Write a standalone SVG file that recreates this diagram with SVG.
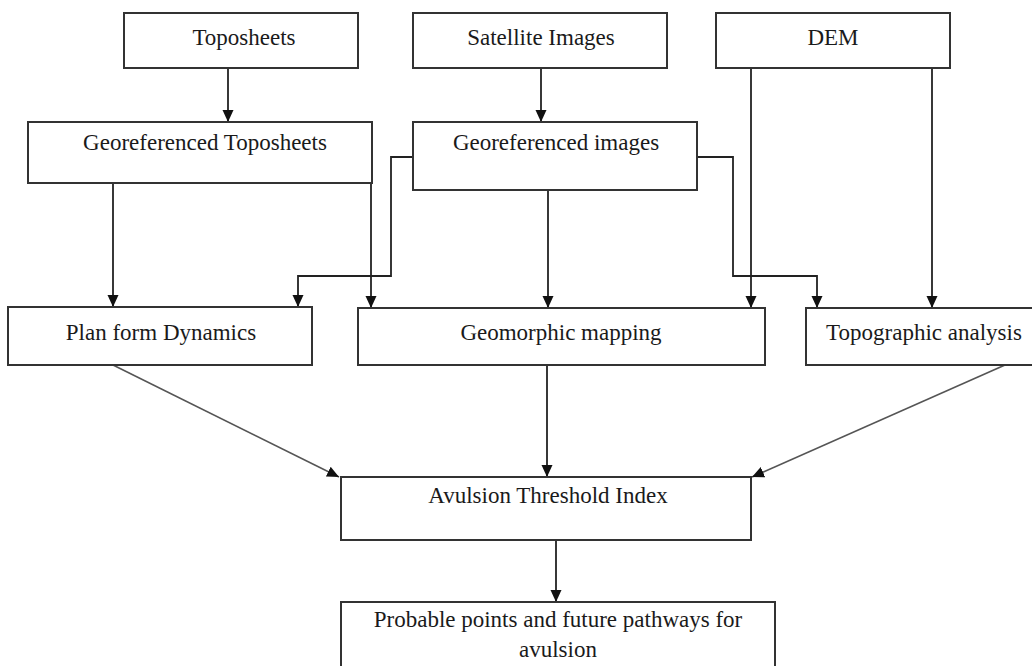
<svg xmlns="http://www.w3.org/2000/svg" width="1032" height="666" viewBox="0 0 1032 666">
  <style>
    .box { fill: #ffffff; stroke: #333333; stroke-width: 2; }
    .lbl { font-family: "Liberation Serif", "Times New Roman", serif; font-size: 23px; fill: #1a1a1a; text-anchor: middle; }
    .con { fill: none; stroke: #222222; stroke-width: 1.8; marker-end: url(#arr); }
    .diag { fill: none; stroke: #555555; stroke-width: 1.6; marker-end: url(#arr); }
  </style>
  <defs>
    <marker id="arr" markerUnits="userSpaceOnUse" markerWidth="12" markerHeight="12" viewBox="0 0 12 12" refX="12" refY="6" orient="auto">
      <path d="M0,0.5 L12,6 L0,11.5 z" fill="#111111"/>
    </marker>
  </defs>
  <rect width="1032" height="666" fill="#ffffff"/>

  <g id="connectors">
    <path class="con" d="M228,68 V122"/>
    <path class="con" d="M541,68 V122"/>
    <path class="con" d="M113,183 V307"/>
    <path class="con" d="M371,183 V308"/>
    <path class="con" d="M413,157 H391 V276 H298 V307"/>
    <path class="con" d="M548,190 V308"/>
    <path class="con" d="M697,157 H733 V276 H817 V308"/>
    <path class="con" d="M751,68 V308"/>
    <path class="con" d="M932,68 V308"/>
    <path class="diag" d="M113,365 L339,477"/>
    <path class="con" d="M547,365 V477"/>
    <path class="diag" d="M1005,365 L752,477"/>
    <path class="con" d="M556,540 V602"/>
  </g>

  <g id="toposheets">
    <rect class="box" x="124" y="13" width="234" height="55"/>
    <text class="lbl" x="244" y="45">Toposheets</text>
  </g>
  <g id="satellite">
    <rect class="box" x="413" y="13" width="254" height="55"/>
    <text class="lbl" x="541" y="45">Satellite  Images</text>
  </g>
  <g id="dem">
    <rect class="box" x="716" y="13" width="234" height="55"/>
    <text class="lbl" x="833" y="45">DEM</text>
  </g>
  <g id="georef-toposheets">
    <rect class="box" x="28" y="122" width="344" height="61"/>
    <text class="lbl" x="205" y="150">Georeferenced Toposheets</text>
  </g>
  <g id="georef-images">
    <rect class="box" x="413" y="122" width="284" height="68"/>
    <text class="lbl" x="556" y="150">Georeferenced images</text>
  </g>
  <g id="planform">
    <rect class="box" x="8" y="307" width="304" height="58"/>
    <text class="lbl" x="161" y="340">Plan form Dynamics</text>
  </g>
  <g id="geomorphic">
    <rect class="box" x="358" y="308" width="407" height="57"/>
    <text class="lbl" x="561" y="340">Geomorphic mapping</text>
  </g>
  <g id="topographic">
    <rect class="box" x="806" y="308" width="240" height="57"/>
    <text class="lbl" x="924" y="340">Topographic analysis</text>
  </g>
  <g id="avulsion-index">
    <rect class="box" x="341" y="477" width="410" height="63"/>
    <text class="lbl" x="548" y="503">Avulsion Threshold Index</text>
  </g>
  <g id="probable-points">
    <rect class="box" x="341" y="602" width="434" height="80"/>
    <text class="lbl" x="558" y="627">Probable points and future pathways for</text>
    <text class="lbl" x="558" y="657">avulsion</text>
  </g>
</svg>
